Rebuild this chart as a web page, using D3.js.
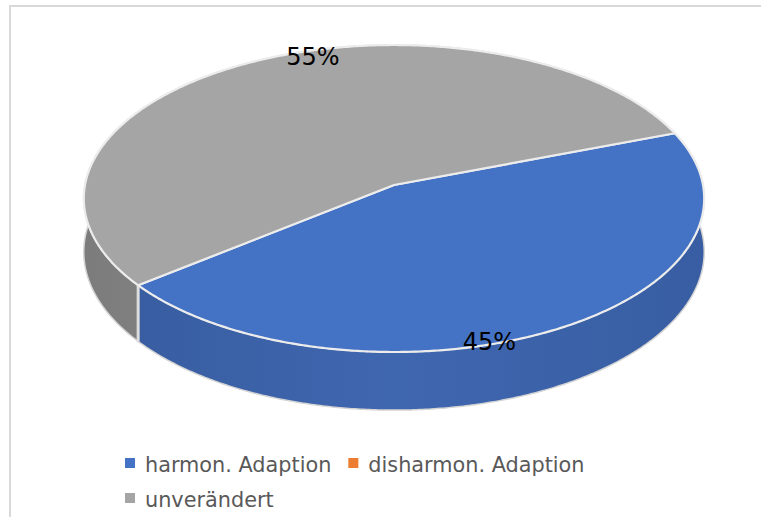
<!DOCTYPE html>
<html>
<head>
<meta charset="utf-8">
<script src="https://cdn.jsdelivr.net/npm/d3@7"></script>
<style>
  html, body { margin: 0; padding: 0; background: #fff; }
  svg { display: block; }
</style>
</head>
<body>
<svg id="chart" width="761" height="517"></svg>
<script>
// Data
const categories = ["harmon. Adaption", "disharmon. Adaption", "unverändert"];
const values = [45, 0, 55];
const colors = ["#4472C4", "#ED7D31", "#A5A5A5"];
const sideColors = [
  ["#375b9e", "#3f67b0", "#385da2"],
  ["#c76526", "#d8712c", "#c76526"],
  ["#7c7c7c", "#8e8e8e", "#888888"]
];

const W = 761, H = 517;
const svg = d3.select("#chart");

// Chart frame
svg.append("rect")
  .attr("x", 10).attr("y", 6)
  .attr("width", 800).attr("height", 600)
  .attr("fill", "#fff")
  .attr("stroke", "#d9d9d9").attr("stroke-width", 2);

// 3D pie geometry (perspective-projected disc)
const cx = 394, cy = 185;   // apex of the disc
const A = 309, B = 152.3;   // horizontal / vertical radii
const k = 0.088;            // perspective strength
const depth = 53;           // wall thickness
const firstAngle = 69.5 * Math.PI / 180;

function proj(a, r, h) {
  const u = r * Math.sin(a), v = -r * Math.cos(a);
  const s = 1 / (1 - k * v);
  return [cx + A * u * s, cy + (B * v + h) * s];
}
function arcPoints(a0, a1, h) {
  const n = Math.max(2, Math.ceil(Math.abs(a1 - a0) / (Math.PI / 360)));
  return d3.range(n + 1).map(i => proj(a0 + (a1 - a0) * i / n, 1, h));
}
const line = d3.line();

const pie = d3.pie().sort(null).value(d => d)
  .startAngle(firstAngle).endAngle(firstAngle + 2 * Math.PI);
const arcs = pie(values).map((d, i) => ({...d, i}));
const total = d3.sum(values);

const defs = svg.append("defs");
arcs.forEach(d => {
  const g = defs.append("linearGradient")
    .attr("id", "side" + d.i)
    .attr("gradientUnits", "userSpaceOnUse")
    .attr("x1", cx - A).attr("x2", cx + A).attr("y1", 0).attr("y2", 0);
  g.append("stop").attr("offset", "0").attr("stop-color", sideColors[d.i][0]);
  g.append("stop").attr("offset", "0.5").attr("stop-color", sideColors[d.i][1]);
  g.append("stop").attr("offset", "1").attr("stop-color", sideColors[d.i][2]);
});

const pieG = svg.append("g");

// Outer walls: slices whose wall is more to the back are drawn first
const visible = arcs.filter(d => d.endAngle > d.startAngle);
const frontness = d => -Math.cos((d.startAngle + d.endAngle) / 2);
visible.slice().sort((a, b) => frontness(a) - frontness(b)).forEach(d => {
  const top = arcPoints(d.startAngle, d.endAngle, 0);
  const bot = arcPoints(d.endAngle, d.startAngle, depth);
  pieG.append("path")
    .attr("d", line(top.concat(bot)) + "Z")
    .attr("fill", `url(#side${d.i})`)
    .attr("stroke", "#d4d4d4").attr("stroke-width", 1.5)
    .attr("stroke-linejoin", "round");
});

// Vertical edges where slices meet on the front of the wall
visible.forEach(d => {
  const a = d.startAngle;
  if (-Math.cos(a) > 0) {
    const p0 = proj(a, 1, 0), p1 = proj(a, 1, depth);
    pieG.append("line")
      .attr("x1", p0[0]).attr("y1", p0[1]).attr("x2", p1[0]).attr("y2", p1[1])
      .attr("stroke", "#dedede").attr("stroke-width", 3);
  }
});

// Top faces
visible.forEach(d => {
  const pts = [[cx, cy]].concat(arcPoints(d.startAngle, d.endAngle, 0));
  pieG.append("path")
    .attr("d", line(pts) + "Z")
    .attr("fill", colors[d.i])
    .attr("stroke", "#ececec").attr("stroke-width", 2.2)
    .attr("stroke-linejoin", "round");
});

// Data labels
visible.forEach(d => {
  const mid = (d.startAngle + d.endAngle) / 2 + 12.5 * Math.PI / 180;
  const p = proj(mid, 0.97, 0);
  svg.append("text")
    .attr("x", p[0]).attr("y", p[1] + 3)
    .attr("text-anchor", "middle")
    .attr("dominant-baseline", "central")
    .attr("font-family", "DejaVu Sans, sans-serif")
    .attr("font-size", 24)
    .attr("fill", "#000")
    .text(d3.format(".0%")(d.value / total));
});

// Legend
const legend = svg.append("g")
  .attr("font-family", "DejaVu Sans, sans-serif")
  .attr("font-size", 20.8)
  .attr("fill", "#595959");
const legX = 125, legMaxW = 560, rowH = 35, row0 = 472;
let lx = legX, ly = row0;
categories.forEach((c, i) => {
  const item = legend.append("g");
  const t = item.append("text").attr("x", 20).attr("y", 0).text(c);
  const w = 20 + t.node().getComputedTextLength();
  if (lx > legX && lx - legX + w > legMaxW) { lx = legX; ly += rowH; }
  item.append("rect")
    .attr("x", 0).attr("y", -14).attr("width", 10).attr("height", 10)
    .attr("fill", colors[i]);
  item.attr("transform", `translate(${lx},${ly})`);
  lx += w + 17;
});
</script>
</body>
</html>
